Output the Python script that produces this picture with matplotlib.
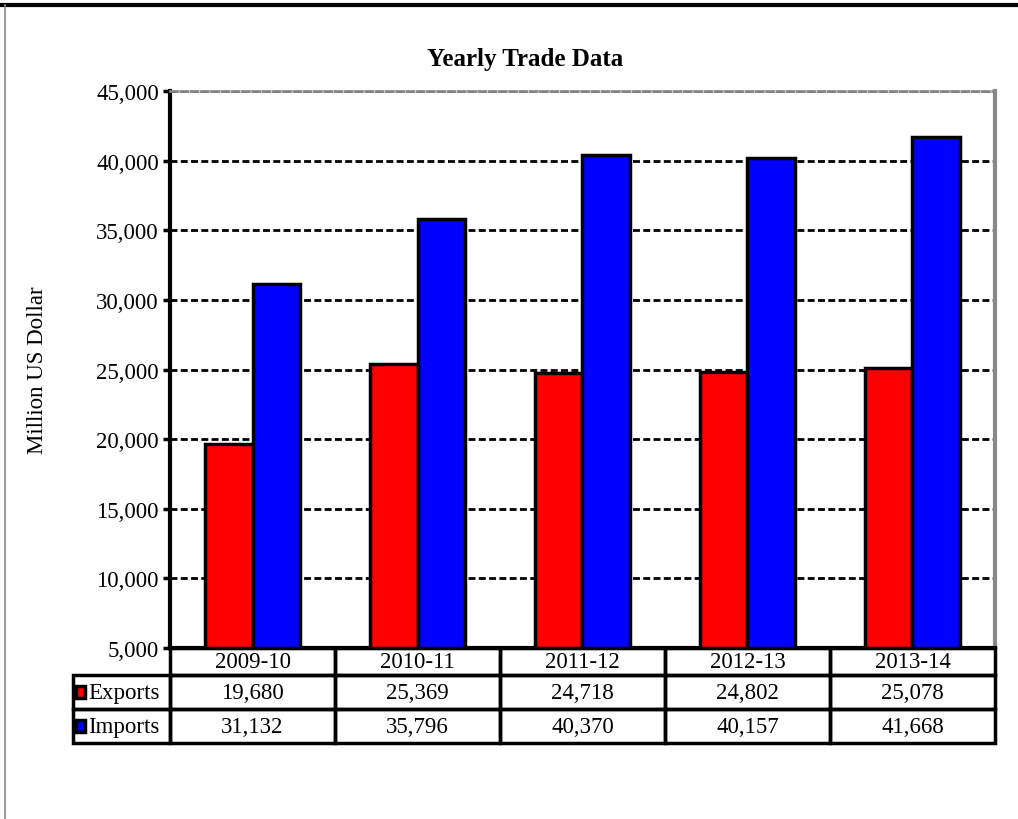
import numpy as np
import matplotlib
matplotlib.use('Agg')
import matplotlib.pyplot as plt
import matplotlib.transforms as mtransforms
from matplotlib.patches import Rectangle
from matplotlib.lines import Line2D

plt.rcParams['font.family'] = ['Liberation Serif', 'DejaVu Serif']

# data
years = ['2009-10', '2010-11', '2011-12', '2012-13', '2013-14']
exports = [19680, 25369, 24718, 24802, 25078]
imports = [31132, 35796, 40370, 40157, 41668]
series_names = ['Exports', 'Imports']
series_colors = ['#ff0000', '#0000ff']

fig = plt.figure(figsize=(10.18, 8.2), dpi=100)
ax = fig.add_axes([0.167, 0.2085, 0.8104, 0.6793])

x = np.arange(len(years))
w = 0.285
ax.bar(x - w/2, exports, w, color=series_colors[0], edgecolor='black', linewidth=2.5, zorder=3)
ax.bar(x + w/2, imports, w, color=series_colors[1], edgecolor='black', linewidth=2.5, zorder=3)

ax.set_xlim(-0.5, len(years) - 0.5)
ax.set_ylim(5000, 45000)
ax.set_yticks(np.arange(5000, 45001, 5000))
ax.set_yticklabels(['{:,}'.format(v) for v in range(5000, 45001, 5000)], fontsize=16.5)
ax.set_xticks([])
ax.tick_params(axis='y', length=5, width=2.5, direction='out', pad=3)
ax.yaxis.grid(True, color='black', linestyle=(0, (2.5, 1.2)), linewidth=2, zorder=0)

ax.spines['left'].set_linewidth(3)
ax.spines['bottom'].set_linewidth(3)
ax.spines['top'].set_color('#888888')
ax.spines['top'].set_linewidth(2)
ax.spines['top'].set_linestyle((0, (2.5, 1.2)))
ax.spines['right'].set_color('#888888')
ax.spines['right'].set_linewidth(3)

ax.text(0.43, 1.0575, 'Yearly Trade Data', transform=ax.transAxes, fontsize=18,
        fontweight='bold', ha='center', va='center')
ax.set_ylabel('Million US Dollar', fontsize=16.5)
ax.yaxis.set_label_coords(-0.148, 0.5)

# data table under the bars: x in data units, y in axes units
trans = mtransforms.blended_transform_factory(ax.transData, ax.transAxes)
row_edges = [0, -0.0485, -0.1095, -0.1706]
label_left = -0.5 - 97 / 165
rows = [years, ['{:,}'.format(v) for v in exports], ['{:,}'.format(v) for v in imports]]
for r in range(3):
    y0, y1 = row_edges[r + 1], row_edges[r]
    for c in range(len(years)):
        ax.add_patch(Rectangle((c - 0.5, y0), 1, y1 - y0, transform=trans, fill=False,
                               edgecolor='black', linewidth=2.5, clip_on=False, zorder=4))
        ax.text(c, (y0 + y1) / 2, rows[r][c], transform=trans, fontsize=16.5,
                ha='center', va='center', clip_on=False)
    if r > 0:
        ax.add_patch(Rectangle((label_left, y0), -0.5 - label_left, y1 - y0, transform=trans,
                               fill=False, edgecolor='black', linewidth=2.5, clip_on=False, zorder=4))
        ax.add_patch(Rectangle((-1.068, (y0 + y1) / 2 - 0.011), 0.055, 0.022, transform=trans,
                               facecolor=series_colors[r - 1], edgecolor='black', linewidth=2.5,
                               clip_on=False, zorder=5))
        ax.text(-0.997, (y0 + y1) / 2, series_names[r - 1], transform=trans, fontsize=16.5,
                ha='left', va='center', clip_on=False)

# chart frame
fig.add_artist(Line2D([0, 1], [0.9925, 0.9925], color='black', linewidth=3))
fig.add_artist(Line2D([0.005, 0.005], [0, 0.9925], color='#888888', linewidth=1.2))

fig.savefig('out.png', dpi=100)
